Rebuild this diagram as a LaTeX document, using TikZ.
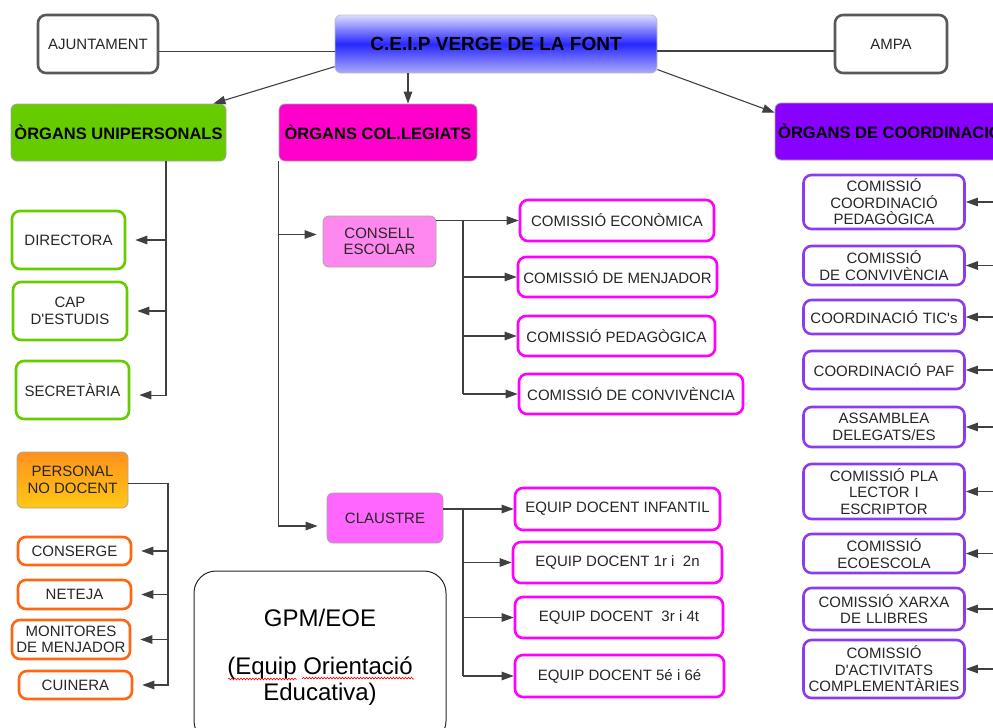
\documentclass[tikz,border=0pt]{standalone}
\usepackage{fontspec}
\setmainfont{Liberation Sans}
\usetikzlibrary{arrows.meta, decorations.pathmorphing}

\definecolor{ugreen}{RGB}{102,204,0}
\definecolor{cmag}{RGB}{255,0,204}
\definecolor{cpurp}{RGB}{136,0,255}
\definecolor{kpink}{RGB}{255,136,238}
\definecolor{lpink}{RGB}{255,102,255}
\definecolor{bmag}{RGB}{255,0,255}
\definecolor{borng}{RGB}{255,102,17}
\definecolor{bpurp}{RGB}{140,60,240}
\definecolor{ctop}{RGB}{220,220,255}
\definecolor{cmid}{RGB}{40,40,255}
\definecolor{cbot}{RGB}{170,170,250}
\definecolor{otop}{RGB}{255,145,30}
\definecolor{obot}{RGB}{255,200,20}

\newcommand\boxfont{\fontsize{15}{16.5}\selectfont}
\newcommand\headfont{\fontsize{16.5}{18}\selectfont\bfseries}
\newcommand\titlefont{\fontsize{19}{21}\selectfont\bfseries}
\newcommand\bigfont{\fontsize{24}{26}\selectfont}

\tikzset{
  box/.style={draw, line width=2.6pt, rounded corners=8pt, align=center, inner sep=0pt, font=\boxfont, text=black!85},
  soft/.style={draw=black!35, line width=0.8pt, rounded corners=6pt, align=center, inner sep=0pt, font=\boxfont, text=black!85},
  head/.style={soft, font=\headfont, text=black},
  sz/.style 2 args={minimum width=#1pt, minimum height=#2pt},
  link/.style={draw=black!75, line width=1.1pt},
  arr/.style={link, -{Triangle[length=12pt,width=8.5pt]}},
  gap/.style={shorten >=9pt},
}

\begin{document}
\begin{tikzpicture}[x=1pt, y=-1pt]
\useasboundingbox (0,0) rectangle (993,728);
\clip (0,0) rectangle (993,728);

% top row
\node[box, draw=black!65, sz={120}{58}] (ajunt) at (98,44) {AJUNTAMENT};
\node[head, font=\titlefont, draw=black!25, sz={322}{58}, top color=ctop, bottom color=cbot, middle color=cmid] (ceip) at (496,44) {C.E.I.P VERGE DE LA FONT};
\node[box, draw=black!65, sz={112}{58}] (ampa) at (891,44) {AMPA};
\draw[link] (ajunt.-7.5) -- (ajunt.-7.5 -| ceip.west);
\draw[link] (ampa.187.5) -- (ampa.187.5 -| ceip.east);

% organs
\node[head, fill=ugreen, sz={215}{57}] (unip) at (118.5,132.5) {ÒRGANS UNIPERSONALS};
\node[head, fill=cmag, sz={198}{57}] (coll) at (378,132.5) {ÒRGANS COL.LEGIATS};
\node[head, fill=cpurp, sz={230}{57}] (coord) at (890,131.5) {ÒRGANS DE COORDINACIÓ};
\draw[arr] (ceip.188) -- ([xshift=-13pt]unip.north east);
\draw[arr] ([xshift=-88pt]ceip.south) -- ([xshift=30pt]coll.north);
\draw[arr] (ceip.-9) -- ([yshift=-10pt]coord.north west);

% organs unipersonals
\node[box, draw=ugreen, sz={113}{58}] (dir) at (68.5,240) {DIRECTORA};
\node[box, draw=ugreen, sz={114}{58}] (cap) at (70,311) {CAP\\D\textquotesingle ESTUDIS};
\node[box, draw=ugreen, sz={113}{58}] (secr) at (72.5,390) {SECRETÀRIA};
\coordinate (tU) at (166,0);
\draw[arr, gap] (unip.south -| tU) |- (secr.-5);
\foreach \n in {dir,cap}
    \draw[arr, gap] (tU |- \n.east) -- (\n.east);

% personal no docent
\node[soft, sz={111}{56}, top color=otop, bottom color=obot] (pers) at (72.5,480) {PERSONAL\\NO DOCENT};
\node[box, draw=borng, sz={113}{28}] (cons) at (74.5,551) {CONSERGE};
\node[box, draw=borng, sz={113}{29}] (net) at (74.5,594.5) {NETEJA};
\node[box, draw=borng, sz={118}{39}] (mon) at (71,639.5) {MONITORES\\DE MENJADOR};
\node[box, draw=borng, sz={113}{28}] (cuin) at (75.5,685) {CUINERA};
\coordinate (tP) at (168,0);
\draw[arr, gap] (pers.-4) -| (tP |- cuin.east) -- (cuin.east);
\foreach \n in {cons,net,mon}
    \draw[arr, gap] (tP |- \n.east) -- (\n.east);

% organs col.legiats
\node[soft, fill=kpink, sz={113}{51}] (consell) at (379.5,241.5) {CONSELL\\ESCOLAR};
\node[soft, fill=lpink, sz={116}{50}] (claus) at (385,518) {CLAUSTRE};
\coordinate (kc) at ([yshift=7pt]consell.west);
\coordinate (kl) at ([yshift=-8pt]claus.west);
\draw[arr, shorten >=6pt] (coll.south west |- kc) -- (kc);
\draw[arr, gap] (coll.south west) |- (kl);

\node[box, draw=bmag, sz={194}{41}] (econ) at (617,220.5) {COMISSIÓ ECONÒMICA};
\node[box, draw=bmag, sz={199}{40}] (menj) at (617.5,277) {COMISSIÓ DE MENJADOR};
\node[box, draw=bmag, sz={197}{40}] (ped) at (616.5,336) {COMISSIÓ PEDAGÒGICA};
\node[box, draw=bmag, sz={224}{40}] (conv) at (631,394) {COMISSIÓ DE CONVIVÈNCIA};
\coordinate (tC) at (463,0);
\draw[arr] (consell.east |- econ.west) -- (econ.west);
\draw[link] (tC |- econ.west) -- (tC |- conv.west);
\foreach \n in {menj,ped,conv}
    \draw[arr] (tC |- \n.west) -- (\n.west);

\node[box, draw=bmag, sz={205}{42}] (inf) at (617.5,509) {EQUIP DOCENT INFANTIL};
\node[box, draw=bmag, sz={209}{41}] (e12) at (617.5,562.5) {EQUIP DOCENT 1r i\ \ 2n};
\node[box, draw=bmag, sz={208}{41}] (e34) at (619,617.5) {EQUIP DOCENT\ \ 3r i 4t};
\node[box, draw=bmag, sz={209}{42}] (e56) at (619.5,676) {EQUIP DOCENT 5é i 6é};
\draw[arr] (claus.east |- inf.west) -- (inf.west);
\draw[link] (tC |- inf.west) -- (tC |- e56.west);
\foreach \n in {e12,e34,e56}
    \draw[arr] (tC |- \n.west) -- (\n.west);

% GPM/EOE
\node[draw=black!85, line width=1pt, rounded corners=22pt, sz={252}{172}, align=center, inner sep=0pt, font=\bigfont] (gpm) at (320,657) {GPM/EOE\\[22pt](Equip Orientació\\Educativa)};
\draw[red, line width=0.6pt, decorate, decoration={snake, amplitude=0.9pt, segment length=3pt}]
    (228,679) -- (296,679) (302,679) -- (414,679);

% organs de coordinacio
\foreach \n/\y/\h/\t in {cp/202/54/{COMISSIÓ\\COORDINACIÓ\\PEDAGÒGICA},
    cc/265.5/39/{COMISSIÓ\\DE CONVIVÈNCIA},
    tic/317/34/{COORDINACIÓ TIC\textquotesingle s},
    paf/370/38/{COORDINACIÓ PAF},
    ass/427/40/{ASSAMBLEA\\DELEGATS/ES},
    pla/491.5/55/{COMISSIÓ PLA\\LECTOR I\\ESCRIPTOR},
    eco/553.5/39/{COMISSIÓ\\ECOESCOLA},
    xarxa/609/42/{COMISSIÓ XARXA\\DE LLIBRES},
    act/669/58/{COMISSIÓ\\D\textquotesingle ACTIVITATS\\COMPLEMENTÀRIES}} {
    \node[box, draw=bpurp, sz={161}{\h}, text width=157pt] (\n) at (884,\y) {\t};
}
\coordinate (tR) at (1000,0);
\foreach \n in {cp,cc,tic,paf,ass,pla,eco,xarxa,act}
    \draw[arr] (tR |- \n.east) -- (\n.east);
\end{tikzpicture}
\end{document}
